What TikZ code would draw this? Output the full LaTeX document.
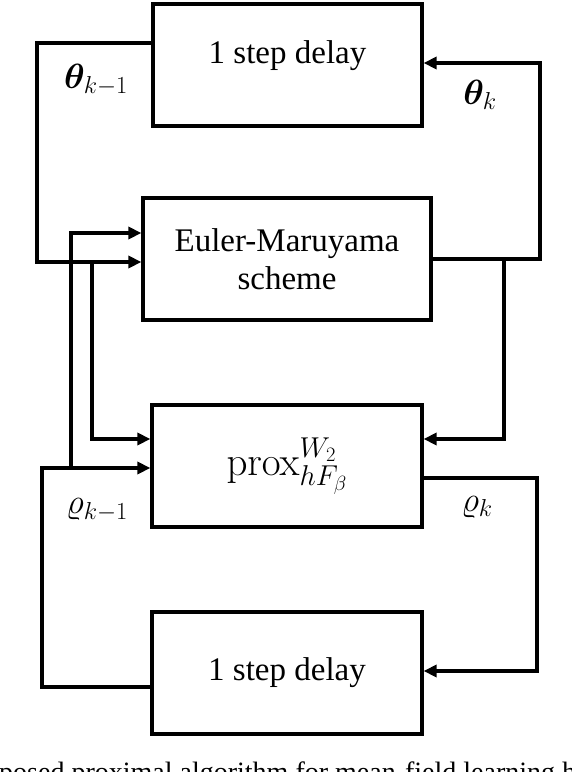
\RequirePackage{fix-cm}
\documentclass[tikz,border=0pt]{standalone}
\usepackage{amsmath}
\usepackage{bm}
\usepackage[no-math]{fontspec}
\setmainfont{Liberation Serif}
\usetikzlibrary{arrows.meta}

\begin{document}
\begin{tikzpicture}[
	x=1pt, y=-1pt,
	block/.style={ draw, line width=3.2pt, minimum width=270pt, minimum height=122pt, inner sep=0pt, align=center, font=\fontsize{33}{38}\selectfont },
	flow/.style={ line width=3.2pt, -{Triangle[length=13pt,width=12pt]} },
	sig/.style={ inner sep=0pt, font=\fontsize{35}{40}\selectfont }
]

\useasboundingbox (0,0) rectangle (572,772);
\clip (0,0) rectangle (572,772);

\node[block, minimum width=269pt, text height=23pt, text depth=27pt] at (287.5,65) (delaytheta) {1 step delay};
\node[block, minimum width=288pt] at (287,259) (euler) {Euler-Maruyama\\scheme};
\node[block, font=\fontsize{41}{46}\selectfont] at (287,466) (prox) {$\mathrm{prox}^{W_2}_{hF_\beta}$};
\node[block] at (287,673) (delayrho) {1 step delay};

\node[sig] at (96,80) (thetaold) {$\bm{\theta}_{k-1}$};
\node[sig] at (480,95) (thetanew) {$\bm{\theta}_{k}$};
\node[sig] at (97,510) (rhoold) {$\varrho_{k-1}$};
\node[sig] at (477,507) (rhonew) {$\varrho_{k}$};

\coordinate (thetasplit) at (92,262);
\coordinate (rhosplit) at (71,468);
\coordinate (eulersplit) at (504,259);

\draw[flow] ([yshift=22]delaytheta.west) -| (37,262) -- ([yshift=-3]euler.west);
\draw[flow] (thetasplit) |- ([yshift=27]prox.west);
\draw[flow] ([yshift=-14]delayrho.west) -| (42,468) -- ([yshift=-2]prox.west);
\draw[flow] (rhosplit) |- ([yshift=26]euler.west);
\draw[flow] (euler.east) -| (540,63) -- ([yshift=2]delaytheta.east);
\draw[flow] (eulersplit) |- ([yshift=27]prox.east);
\draw[flow] ([yshift=-12]prox.east) -| (537,671) -- ([yshift=2]delayrho.east);

\node[anchor=base west, inner sep=0pt, font=\fontsize{28}{32}\selectfont] at (-1,781) (caption) {posed proximal algorithm for mean-field learning h};

\end{tikzpicture}
\end{document}
